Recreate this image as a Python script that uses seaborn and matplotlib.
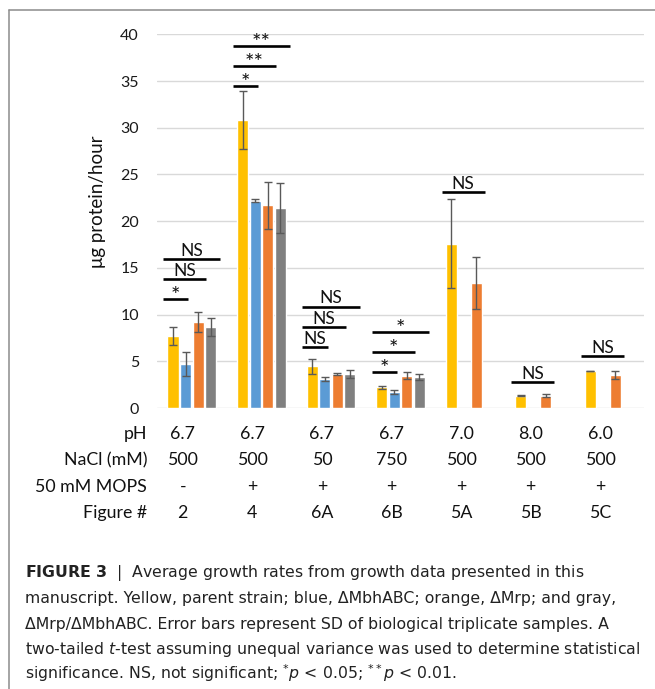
import numpy as np
import pandas as pd
import matplotlib
matplotlib.use("Agg")
import matplotlib.pyplot as plt
import matplotlib.transforms as mtransforms
from matplotlib.lines import Line2D
import seaborn as sns

# ---- data -------------------------------------------------------------
conditions = ["2", "4", "6A", "6B", "5A", "5B", "5C"]
ph_values = ["6.7", "6.7", "6.7", "6.7", "7.0", "8.0", "6.0"]
nacl_values = ["500", "500", "50", "750", "500", "500", "500"]
mops_values = ["-", "+", "+", "+", "+", "+", "+"]
strains = ["Parent", "ΔMbhABC", "ΔMrp", "ΔMrp/ΔMbhABC"]

nan = np.nan
parent_mean = [7.7, 30.8, 4.45, 2.2, 17.6, 1.3, 3.96]
parent_sd = [1.0, 3.1, 0.8, 0.15, 4.8, 0.05, 0.05]
mbh_mean = [4.7, 22.2, 3.1, 1.7, nan, nan, nan]
mbh_sd = [1.3, 0.2, 0.17, 0.2, nan, nan, nan]
mrp_mean = [9.2, 21.7, 3.65, 3.45, 13.4, 1.3, 3.55]
mrp_sd = [1.07, 2.5, 0.1, 0.39, 2.75, 0.15, 0.4]
double_mean = [8.7, 21.4, 3.65, 3.3, nan, nan, nan]
double_sd = [0.98, 2.65, 0.46, 0.3, nan, nan, nan]

# significance brackets: (condition index, height, span, label)
sig_condition = [0, 0, 0, 1, 1, 1, 2, 2, 2, 3, 3, 3, 4, 5, 6]
sig_height = [11.65, 13.8, 15.9, 34.5, 36.6, 38.8, 6.5, 8.65, 10.86,
              3.9, 6.0, 8.1, 23.15, 2.75, 5.55]
sig_span = ["short", "medium", "long", "short", "medium", "long",
            "short", "medium", "long", "short", "medium", "long",
            "medium", "medium", "medium"]
sig_label = ["*", "NS", "NS", "*", "**", "**", "NS", "NS", "NS",
             "*", "*", "*", "NS", "NS", "NS"]

colors = ["#FFC000", "#5B9BD5", "#ED7D31", "#808080"]

rows = []
for strain, means, sds in zip(strains,
                              [parent_mean, mbh_mean, mrp_mean, double_mean],
                              [parent_sd, mbh_sd, mrp_sd, double_sd]):
    for cond, m, s in zip(conditions, means, sds):
        rows.append({"condition": cond, "strain": strain, "rate": m, "sd": s})
df = pd.DataFrame(rows).dropna()

# ---- figure -----------------------------------------------------------
sns.set_theme(style="white")
plt.rcParams["font.family"] = ["Lato", "DejaVu Sans"]
plt.rcParams["mathtext.fontset"] = "dejavusans"

W, H = 655, 689
fig = plt.figure(figsize=(W / 100, H / 100), dpi=100)
ax = fig.add_axes([157 / W, 1 - 408 / H, (644 - 157) / W, (408 - 34.3) / H])

sns.barplot(data=df, x="condition", y="rate", hue="strain",
            order=conditions, hue_order=strains, palette=colors,
            width=0.72, gap=0.12, errorbar=None, legend=False, ax=ax,
            saturation=1)

# error bars placed on the drawn bars
for strain, container in zip(strains, ax.containers):
    sub = df[df["strain"] == strain].set_index("condition")
    for bar in container:
        xc = bar.get_x() + bar.get_width() / 2
        cond = conditions[int(round(xc))]
        ax.errorbar(xc, sub.loc[cond, "rate"], yerr=sub.loc[cond, "sd"],
                    fmt="none", ecolor="#595959", elinewidth=1.0,
                    capsize=2.8, capthick=1.0, zorder=3)

ax.set_xlim(-0.5, 6.5)
ax.set_ylim(0, 40)
ax.set_yticks(range(0, 41, 5))
ax.yaxis.grid(True, color="#d9d9d9", linewidth=1.0)
ax.set_axisbelow(True)
ax.set_xticks([])
ax.set_xlabel("")
ax.set_ylabel("")
ax.tick_params(axis="y", length=0, pad=13, labelsize=11.5, labelcolor="#1a1a1a")
for sp in ax.spines.values():
    sp.set_visible(False)

# significance brackets
first_bars = {}
for bar in ax.containers[0]:
    xc = bar.get_x() + bar.get_width() / 2
    first_bars[int(round(xc))] = bar
span_len = {"short": 0.36, "medium": 0.62, "long": 0.82}
for ci, h, sp, lab in zip(sig_condition, sig_height, sig_span, sig_label):
    x0 = first_bars[ci].get_x() - 0.06
    x1 = x0 + span_len[sp]
    ax.plot([x0, x1], [h, h], color="black", lw=1.9, solid_capstyle="butt",
            clip_on=False, zorder=4)
    if lab == "NS":
        ax.annotate(lab, xy=((x0 + x1) / 2, h), xytext=(0, 2.2),
                    textcoords="offset points", ha="center", va="baseline",
                    fontsize=12.5, color="#111111", annotation_clip=False)
    else:
        ax.annotate(lab, xy=((x0 + x1) / 2, h), xytext=(0, -2.2),
                    textcoords="offset points", ha="center", va="baseline",
                    fontsize=16, color="#111111", annotation_clip=False)

fig.text(97 / W, 1 - 202 / H, "μg protein/hour", rotation=90,
         ha="center", va="center", fontsize=13.5, color="#111111")

# condition table under the bars
row_titles = ["pH", "NaCl (mM)", "50 mM MOPS", "Figure #"]
row_values = [ph_values, nacl_values, mops_values, conditions]
row_base = [439, 465, 492, 518]
col_trans = mtransforms.blended_transform_factory(ax.transData, fig.transFigure) + \
    mtransforms.ScaledTranslation(-9 / 100, 0, fig.dpi_scale_trans)
for title, vals, yb in zip(row_titles, row_values, row_base):
    fig.text(147 / W, 1 - yb / H, title, ha="right", va="baseline",
             fontsize=12.8, color="#111111")
    for i, v in enumerate(vals):
        fig.text(i, 1 - yb / H, v, transform=col_trans, ha="center",
                 va="baseline", fontsize=12.8, color="#111111")

# frame lines
frame_col = "#8c8c8c"
fig.add_artist(Line2D([9 / W, 1], [1 - 10 / H, 1 - 10 / H],
                      transform=fig.transFigure, color=frame_col, lw=1.1))
fig.add_artist(Line2D([9 / W, 9 / W], [0, 1 - 10 / H],
                      transform=fig.transFigure, color=frame_col, lw=1.1))

# caption
caption = [
    r"$\mathbf{FIGURE\ 3}$  |  Average growth rates from growth data presented in this",
    r"manuscript. Yellow, parent strain; blue, ΔMbhABC; orange, ΔMrp; and gray,",
    r"ΔMrp/ΔMbhABC. Error bars represent SD of biological triplicate samples. A",
    r"two-tailed $t$-test assuming unequal variance was used to determine statistical",
    r"significance. NS, not significant; ${}^{*}p$ < 0.05; ${}^{**}p$ < 0.01.",
]
cap_base = [577, 603, 628.5, 654, 679]
for line, yb in zip(caption, cap_base):
    fig.text(25 / W, 1 - yb / H, line, ha="left", va="baseline",
             fontsize=11.35, family=["DejaVu Sans"], color="#222222")

fig.savefig("out.png", dpi=100)
